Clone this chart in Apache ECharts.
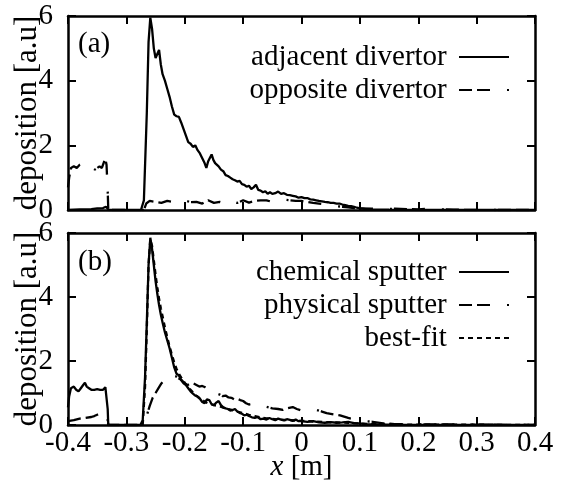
<!DOCTYPE html>
<html>
<head>
<meta charset="utf-8">
<script src="https://cdn.jsdelivr.net/npm/echarts@6/dist/echarts.min.js"></script>
<style>html,body{margin:0;padding:0;background:#fff;}#c{width:563px;height:481px;}</style>
</head>
<body>
<div id="c"></div>
<script>
// x range and tick settings
const xMin = -0.4, xMax = 0.4, xStep = 0.1;
const yMin = 0, yMax = 6, yStep = 2;
const panelLabels = ['(a)', '(b)'];
const seriesNamesA = ['adjacent divertor', 'opposite divertor'];
const seriesNamesB = ['chemical sputter', 'physical sputter', 'best-fit'];
const yAxisTitle = 'deposition [a.u]';

// Panel (a): adjacent divertor [x, deposition]
const adjacentData = [[-0.4,0.0],[-0.38,0.02],[-0.36,0.03],[-0.35,0.05],[-0.34,0.06],[-0.335,0.1],[-0.332,0.12],[-0.33,0.0],[-0.275,0.0],[-0.27,0.3],[-0.265,3.0],[-0.262,5.2],[-0.259,5.95],[-0.256,5.6],[-0.253,5.0],[-0.25,4.7],[-0.247,4.75],[-0.244,4.95],[-0.241,4.5],[-0.238,4.2],[-0.234,4.0],[-0.23,3.75],[-0.226,3.5],[-0.222,3.2],[-0.218,2.95],[-0.214,2.9],[-0.21,2.88],[-0.206,2.7],[-0.202,2.5],[-0.198,2.3],[-0.194,2.1],[-0.19,2.05],[-0.186,1.95],[-0.182,2.0],[-0.178,1.85],[-0.174,1.75],[-0.17,1.6],[-0.166,1.45],[-0.163,1.3],[-0.16,1.5],[-0.157,1.55],[-0.154,1.72],[-0.151,1.55],[-0.148,1.45],[-0.145,1.5],[-0.142,1.35],[-0.138,1.25],[-0.134,1.2],[-0.13,1.08],[-0.126,1.05],[-0.122,1.0],[-0.118,0.95],[-0.114,0.92],[-0.11,0.88],[-0.106,0.9],[-0.102,0.8],[-0.098,0.78],[-0.094,0.72],[-0.09,0.75],[-0.086,0.65],[-0.082,0.7],[-0.078,0.78],[-0.074,0.62],[-0.07,0.6],[-0.066,0.55],[-0.062,0.58],[-0.058,0.5],[-0.054,0.55],[-0.05,0.5],[-0.045,0.52],[-0.04,0.57],[-0.035,0.5],[-0.03,0.52],[-0.025,0.47],[-0.02,0.46],[-0.015,0.44],[-0.01,0.42],[-0.005,0.38],[0.0,0.4],[0.005,0.37],[0.01,0.37],[0.015,0.33],[0.02,0.32],[0.025,0.3],[0.03,0.28],[0.035,0.27],[0.04,0.25],[0.045,0.24],[0.05,0.22],[0.055,0.22],[0.06,0.2],[0.065,0.2],[0.07,0.17],[0.075,0.15],[0.08,0.13],[0.085,0.12],[0.09,0.1],[0.095,0.07],[0.1,0.05],[0.105,0.04],[0.11,0.03],[0.12,0.02],[0.15,0.01],[0.2,0.0],[0.4,0.0]];

// Panel (a): opposite divertor
const oppositeData = [[-0.4,0.7],[-0.398,1.0],[-0.395,1.3],[-0.39,1.35],[-0.385,1.3],[-0.38,1.4],[-0.375,1.45],[-0.37,1.45],[-0.366,1.35],[-0.362,1.3],[-0.358,1.3],[-0.354,1.25],[-0.35,1.3],[-0.346,1.35],[-0.342,1.3],[-0.338,1.5],[-0.336,1.58],[-0.334,1.4],[-0.332,0.6],[-0.331,0.0],[-0.27,0.0],[-0.266,0.2],[-0.26,0.28],[-0.25,0.25],[-0.24,0.22],[-0.23,0.28],[-0.22,0.25],[-0.21,0.22],[-0.2,0.3],[-0.19,0.24],[-0.18,0.25],[-0.17,0.2],[-0.16,0.3],[-0.15,0.22],[-0.14,0.25],[-0.13,0.2],[-0.12,0.28],[-0.11,0.22],[-0.1,0.3],[-0.09,0.23],[-0.08,0.28],[-0.07,0.3],[-0.06,0.3],[-0.05,0.25],[-0.04,0.27],[-0.03,0.32],[-0.02,0.3],[-0.01,0.28],[0.0,0.28],[0.01,0.25],[0.02,0.22],[0.03,0.2],[0.04,0.18],[0.05,0.15],[0.06,0.12],[0.07,0.1],[0.08,0.08],[0.09,0.06],[0.1,0.05],[0.12,0.04],[0.14,0.03],[0.16,0.04],[0.18,0.03],[0.2,0.02],[0.22,0.04],[0.24,0.02],[0.26,0.01],[0.3,0.0],[0.4,0.0]];

// Panel (b): chemical sputter
const chemicalData = [[-0.4,0.55],[-0.398,0.9],[-0.395,1.15],[-0.39,1.2],[-0.386,1.1],[-0.382,1.05],[-0.378,1.15],[-0.374,1.25],[-0.371,1.32],[-0.368,1.2],[-0.364,1.15],[-0.36,1.1],[-0.355,1.1],[-0.35,1.12],[-0.345,1.1],[-0.34,1.1],[-0.336,1.18],[-0.334,1.15],[-0.332,0.5],[-0.331,0.0],[-0.276,0.0],[-0.272,0.15],[-0.268,1.5],[-0.265,3.2],[-0.262,5.0],[-0.259,5.85],[-0.256,5.5],[-0.253,5.0],[-0.25,4.5],[-0.247,4.1],[-0.244,3.75],[-0.241,3.45],[-0.238,3.2],[-0.234,2.9],[-0.23,2.65],[-0.226,2.4],[-0.222,2.1],[-0.218,1.8],[-0.214,1.6],[-0.21,1.55],[-0.206,1.4],[-0.202,1.3],[-0.198,1.25],[-0.194,1.15],[-0.19,1.05],[-0.186,0.98],[-0.182,0.92],[-0.178,0.88],[-0.174,0.82],[-0.17,0.72],[-0.166,0.68],[-0.162,0.8],[-0.158,0.78],[-0.154,0.65],[-0.15,0.62],[-0.146,0.7],[-0.142,0.75],[-0.138,0.62],[-0.134,0.55],[-0.13,0.52],[-0.126,0.5],[-0.122,0.45],[-0.118,0.47],[-0.114,0.5],[-0.11,0.42],[-0.106,0.38],[-0.102,0.35],[-0.098,0.3],[-0.094,0.32],[-0.09,0.28],[-0.085,0.24],[-0.08,0.22],[-0.075,0.25],[-0.07,0.18],[-0.065,0.2],[-0.06,0.17],[-0.055,0.22],[-0.05,0.18],[-0.045,0.15],[-0.04,0.2],[-0.035,0.17],[-0.03,0.14],[-0.025,0.18],[-0.02,0.16],[-0.015,0.13],[-0.01,0.17],[-0.005,0.12],[0.0,0.12],[0.01,0.1],[0.02,0.12],[0.03,0.08],[0.04,0.07],[0.05,0.09],[0.06,0.07],[0.07,0.08],[0.08,0.1],[0.09,0.06],[0.1,0.05],[0.11,0.03],[0.13,0.02],[0.16,0.01],[0.2,0.0],[0.4,0.0]];

// Panel (b): physical sputter
const physicalData = [[-0.4,0.12],[-0.39,0.15],[-0.38,0.2],[-0.37,0.22],[-0.36,0.25],[-0.355,0.28],[-0.35,0.32],[-0.345,0.36],[-0.34,0.42],[-0.336,0.45],[-0.333,0.3],[-0.331,0.0],[-0.275,0.0],[-0.27,0.1],[-0.265,0.3],[-0.26,0.6],[-0.255,0.85],[-0.25,1.0],[-0.245,1.15],[-0.24,1.3],[-0.235,1.4],[-0.23,1.5],[-0.225,1.6],[-0.22,1.55],[-0.215,1.52],[-0.21,1.45],[-0.205,1.4],[-0.2,1.3],[-0.195,1.25],[-0.19,1.3],[-0.185,1.3],[-0.18,1.25],[-0.175,1.2],[-0.17,1.22],[-0.165,1.18],[-0.16,1.12],[-0.155,1.18],[-0.15,1.05],[-0.145,0.98],[-0.14,0.95],[-0.135,0.9],[-0.13,0.92],[-0.125,0.86],[-0.12,0.85],[-0.115,0.8],[-0.11,0.82],[-0.105,0.78],[-0.1,0.75],[-0.095,0.68],[-0.09,0.64],[-0.085,0.66],[-0.08,0.68],[-0.075,0.65],[-0.07,0.62],[-0.06,0.57],[-0.05,0.52],[-0.04,0.5],[-0.032,0.47],[-0.024,0.52],[-0.015,0.56],[-0.008,0.5],[0.0,0.45],[0.01,0.42],[0.018,0.45],[0.026,0.47],[0.035,0.42],[0.043,0.37],[0.055,0.33],[0.066,0.3],[0.08,0.22],[0.095,0.16],[0.11,0.12],[0.122,0.1],[0.14,0.05],[0.16,0.03],[0.2,0.02],[0.25,0.02],[0.3,0.01],[0.4,0.0]];

// Panel (b): best-fit
const bestFitData = [[-0.272,0.0],[-0.268,1.2],[-0.265,3.0],[-0.262,5.0],[-0.259,5.8],[-0.256,5.6],[-0.253,5.15],[-0.25,4.7],[-0.247,4.3],[-0.244,3.95],[-0.241,3.65],[-0.238,3.4],[-0.234,3.05],[-0.23,2.75],[-0.226,2.45],[-0.222,2.2],[-0.218,1.95],[-0.214,1.75],[-0.21,1.6],[-0.205,1.45],[-0.2,1.32],[-0.195,1.2],[-0.19,1.1],[-0.185,1.0],[-0.18,0.92],[-0.175,0.85],[-0.17,0.78],[-0.165,0.72],[-0.16,0.68],[-0.15,0.62],[-0.14,0.58],[-0.13,0.52],[-0.12,0.47],[-0.11,0.42],[-0.1,0.37],[-0.09,0.32],[-0.08,0.28],[-0.07,0.24],[-0.06,0.21],[-0.05,0.19],[-0.04,0.17],[-0.03,0.16],[-0.02,0.15],[-0.01,0.14],[0.0,0.13],[0.02,0.11],[0.04,0.09],[0.06,0.08],[0.08,0.07],[0.1,0.05],[0.12,0.03],[0.15,0.02],[0.2,0.01],[0.3,0.01],[0.4,0.0]];

const FONT = '"Liberation Serif", "Times New Roman", serif';
const FS = 29;
const LW = 2.3;
const DASHDOT = [13, 5, 13, 17, 2, 2];
const SHORTDASH = [5, 4];

const grids = [
  {left: 68, right: 28, top: 16, height: 194, outerBoundsMode: 'none', containLabel: false},
  {left: 68, right: 28, top: 233, height: 192, outerBoundsMode: 'none', containLabel: false}
];

function xAx(gi, pos, labels) {
  return {
    type: 'value', gridIndex: gi, position: pos, min: xMin, max: xMax, interval: xStep,
    axisLine: {show: true, onZero: false, lineStyle: {color: '#000', width: 2.5}},
    axisTick: {show: true, inside: true, length: 8, lineStyle: {color: '#000', width: 2}},
    splitLine: {show: false},
    axisLabel: {show: labels, color: '#000', fontFamily: FONT, fontSize: FS, margin: 4,
      formatter: v => (Math.abs(v) < 1e-9 ? '0' : (Math.round(v * 10) / 10).toString())},
    name: labels ? '{i|x} [m]' : '', nameLocation: 'middle', nameGap: 28, nameMoveOverlap: false,
    nameTextStyle: {color: '#000', fontFamily: FONT, fontSize: FS,
      rich: {i: {fontStyle: 'italic', fontFamily: FONT, fontSize: FS, color: '#000'}}}
  };
}
function yAx(gi, pos, labels) {
  return {
    type: 'value', gridIndex: gi, position: pos, min: yMin, max: yMax, interval: yStep,
    axisLine: {show: true, onZero: false, lineStyle: {color: '#000', width: 2.5}},
    axisTick: {show: true, inside: true, length: 8, lineStyle: {color: '#000', width: 2}},
    splitLine: {show: false},
    axisLabel: {show: labels, color: '#000', fontFamily: FONT, fontSize: FS, margin: 15},
    name: labels ? yAxisTitle : '', nameLocation: 'middle', nameRotate: 90, nameGap: 25, nameMoveOverlap: false,
    nameTextStyle: {color: '#000', fontFamily: FONT, fontSize: 31}
  };
}

function line(name, data, xi, yi, dash) {
  return {
    name: name, type: 'line', data: data, xAxisIndex: xi, yAxisIndex: yi,
    symbol: 'none', showSymbol: false, smooth: false, animation: false,
    lineStyle: {color: '#000', width: LW, type: dash},
    itemStyle: {color: '#000'}
  };
}

function legend(names, top) {
  return {
    data: names, orient: 'vertical', align: 'right', right: 48, top: top,
    itemWidth: 50, itemHeight: 14, itemGap: 3,
    formatter: n => n + ' ',
    itemStyle: {opacity: 0, borderWidth: 0, color: 'rgba(0,0,0,0)'},
    textStyle: {color: '#000', fontFamily: FONT, fontSize: FS, lineHeight: 30}
  };
}

const option = {
  backgroundColor: '#fff',
  animation: false,
  grid: grids,
  title: [
    {text: panelLabels[0], left: 78, top: 30, textStyle: {color: '#000', fontFamily: FONT, fontSize: FS, fontWeight: 'normal'}, padding: 0},
    {text: panelLabels[1], left: 78, top: 248, textStyle: {color: '#000', fontFamily: FONT, fontSize: FS, fontWeight: 'normal'}, padding: 0}
  ],
  legend: [legend(seriesNamesA, 37), legend(seriesNamesB, 252)],
  xAxis: [xAx(0, 'bottom', false), xAx(0, 'top', false), xAx(1, 'bottom', true), xAx(1, 'top', false)],
  yAxis: [yAx(0, 'left', true), yAx(0, 'right', false), yAx(1, 'left', true), yAx(1, 'right', false)],
  series: [
    line(seriesNamesA[0], adjacentData, 0, 0, 'solid'),
    line(seriesNamesA[1], oppositeData, 0, 0, DASHDOT),
    line(seriesNamesB[0], chemicalData, 2, 2, 'solid'),
    line(seriesNamesB[1], physicalData, 2, 2, DASHDOT),
    line(seriesNamesB[2], bestFitData, 2, 2, SHORTDASH)
  ]
};

const chart = echarts.init(document.getElementById('c'), null, {renderer: 'canvas'});
chart.setOption(option);
</script>
</body>
</html>
